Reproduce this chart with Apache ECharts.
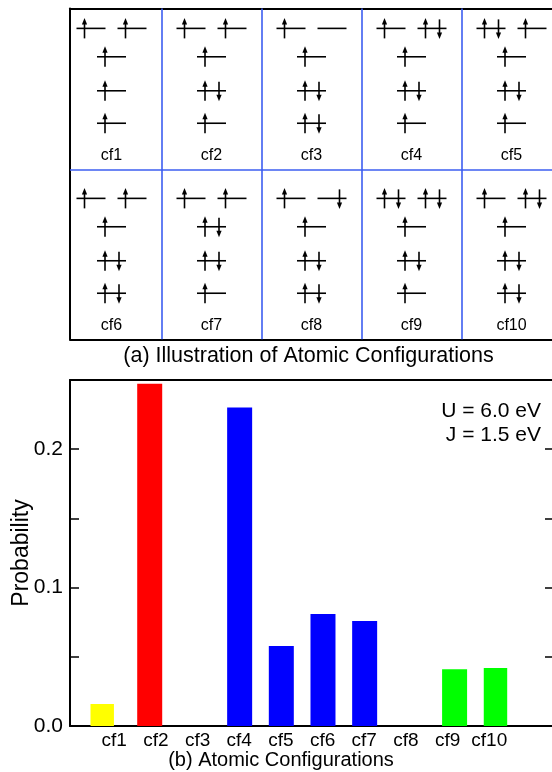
<!DOCTYPE html>
<html>
<head>
<meta charset="utf-8">
<script src="https://cdn.jsdelivr.net/npm/echarts@6/dist/echarts.min.js"></script>
<style>
html,body{margin:0;padding:0;background:#fff;}
#chart{width:552px;height:772px;}
</style>
</head>
<body>
<div id="chart"></div>
<script>
// ---- data ----
const configLabels = ['cf1','cf2','cf3','cf4','cf5','cf6','cf7','cf8','cf9','cf10'];
// orbital occupancy: 'u' = spin up, 'd' = spin down, 'ud' = pair, '' = empty
const egOccupancy = [
  ['u','u'], ['u','u'], ['u',''], ['u','ud'], ['ud','u'],
  ['u','u'], ['u','u'], ['u','d'], ['ud','ud'], ['u','ud']
];
const t2gOccupancy = [
  ['u','u','u'], ['u','ud','u'], ['u','ud','ud'], ['u','ud','u'], ['u','ud','u'],
  ['u','ud','ud'], ['ud','ud','u'], ['u','ud','ud'], ['u','ud','u'], ['u','ud','ud']
];
const probability = [0.0159, 0.2473, 0, 0.2302, 0.0578, 0.0810, 0.0759, 0, 0.0410, 0.0419];
const barGroup = ['yellow','red','blue','blue','blue','blue','blue','blue','green','green'];
const groupNames = ['yellow','red','blue','green'];
const groupColors = {yellow:'#ffff00', red:'#ff0000', blue:'#0000ff', green:'#00ff00'};
const yLabeledTicks = [0.0, 0.1, 0.2];
const captionA = '(a) Illustration of Atomic Configurations';
const captionB = '(b) Atomic Configurations';
const annotation = ['U = 6.0 eV', 'J = 1.5 eV'];

// ---- layout helpers (panel a: one x unit per column, one y unit per row of cells) ----
const FONT = "'Liberation Sans', Arial, Helvetica, sans-serif";
const codeIndex = {'':0, 'u':1, 'd':2, 'ud':3};
const rowOffsets = [0.167, 0.334, 0.534, 0.725];
const labelOffset = 0.915;
const egDx = [-0.205, 0.205];

const orbitalData = [];
const cellLabelData = [];
configLabels.forEach((lab, i) => {
  const col = i % 5, half = Math.floor(i / 5);
  egOccupancy[i].forEach((occ, k) => {
    orbitalData.push([col + egDx[k], half + rowOffsets[0], codeIndex[occ]]);
  });
  t2gOccupancy[i].forEach((occ, k) => {
    orbitalData.push([col, half + rowOffsets[k + 1], codeIndex[occ]]);
  });
  cellLabelData.push([col, half + labelOffset, i]);
});

function renderOrbital(params, api) {
  const p = api.coord([api.value(0), api.value(1)]);
  const code = api.value(2);
  const x = p[0], y = p[1];
  const L = x - 14.5, R = x + 14.5;
  const st = {stroke:'#000', lineWidth:1.6};
  const children = [{type:'line', shape:{x1:L, y1:y, x2:R, y2:y}, style:st}];
  if (code === 1 || code === 3) {
    const ax = L + 8;
    children.push({type:'line', shape:{x1:ax, y1:y + 10, x2:ax, y2:y - 5}, style:st});
    children.push({type:'polygon', shape:{points:[[ax, y - 10.5],[ax - 2.6, y - 4],[ax + 2.6, y - 4]]}, style:{fill:'#000'}});
  }
  if (code === 2 || code === 3) {
    const ax = L + 22;
    children.push({type:'line', shape:{x1:ax, y1:y - 9, x2:ax, y2:y + 5}, style:st});
    children.push({type:'polygon', shape:{points:[[ax, y + 10.5],[ax - 2.6, y + 4],[ax + 2.6, y + 4]]}, style:{fill:'#000'}});
  }
  return {type:'group', children};
}

function renderCellLabel(params, api) {
  const p = api.coord([api.value(0), api.value(1)]);
  return {type:'text', x:p[0], y:p[1], style:{text:configLabels[api.value(2)], fill:'#000', font:'16px ' + FONT, align:'center', verticalAlign:'middle'}};
}

const barSeries = groupNames.map(g => ({
  type:'bar', name:g, xAxisIndex:4, yAxisIndex:3,
  barWidth:25, barGap:'-73.6%',
  itemStyle:{color:groupColors[g]},
  data: probability.map((v, i) => barGroup[i] === g ? v : '-'),
  silent:true, animation:false
}));

const blue = '#3d5ef0';
const frameLine = {show:true, onZero:false, lineStyle:{color:'#000', width:2}};
const chart = echarts.init(document.getElementById('chart'), null, {renderer:'canvas'});
chart.setOption({
  animation:false,
  backgroundColor:'#fff',
  grid:[
    {left:70, top:8.5, width:500, height:330.8, containLabel:false, outerBoundsMode:'none'},
    {left:70, top:380, width:485, height:346, containLabel:false, outerBoundsMode:'none'},
    {left:90.5, top:380, width:416.7, height:346, containLabel:false, outerBoundsMode:'none'}
  ],
  xAxis:[
    {gridIndex:0, type:'value', min:-0.415, max:4.585, position:'top',
     axisLine:frameLine, axisTick:{show:false}, axisLabel:{show:false}, splitLine:{show:false}},
    {gridIndex:0, type:'value', min:-0.415, max:4.585, position:'bottom',
     axisLine:frameLine, axisTick:{show:false}, axisLabel:{show:false}, splitLine:{show:false}},
    {gridIndex:1, type:'value', min:0, max:1, position:'bottom',
     axisLine:frameLine, axisTick:{show:false}, axisLabel:{show:false}, splitLine:{show:false}},
    {gridIndex:1, type:'value', min:0, max:1, position:'top',
     axisLine:frameLine, axisTick:{show:false}, axisLabel:{show:false}, splitLine:{show:false}},
    {gridIndex:2, type:'category', data:configLabels, position:'bottom',
     axisLine:{show:false, onZero:false}, axisTick:{show:false}, splitLine:{show:false},
     axisLabel:{show:true, interval:0, color:'#000', fontSize:19, fontFamily:FONT, margin:5, padding:[0,0,0,5.8]}}
  ],
  yAxis:[
    {gridIndex:0, type:'value', inverse:true, min:0.05, max:1.996, position:'left',
     axisLine:frameLine, axisTick:{show:false}, axisLabel:{show:false}, splitLine:{show:false}},
    {gridIndex:1, type:'value', min:0, max:0.25, interval:0.05, position:'left',
     name:'Probability', nameLocation:'middle', nameGap:37, nameMoveOverlap:false,
     nameTextStyle:{fontSize:23, fontFamily:FONT, color:'#000'},
     axisLine:frameLine,
     axisTick:{show:true, inside:true, length:9, lineStyle:{color:'#000', width:1.5}},
     axisLabel:{show:true, color:'#000', fontSize:21, fontFamily:FONT, margin:7,
       formatter: v => yLabeledTicks.some(t => Math.abs(t - v) < 1e-9) ? v.toFixed(1) : ''},
     splitLine:{show:false}},
    {gridIndex:1, type:'value', min:0, max:0.25, interval:0.05, position:'right',
     axisLine:frameLine,
     axisTick:{show:true, inside:true, length:10, lineStyle:{color:'#000', width:1.5}},
     axisLabel:{show:false}, splitLine:{show:false}},
    {gridIndex:2, type:'value', min:0, max:0.25, show:false}
  ],
  series:[
    {type:'custom', xAxisIndex:0, yAxisIndex:0, data:orbitalData, renderItem:renderOrbital, silent:true, clip:false,
     markLine:{symbol:'none', silent:true, label:{show:false}, animation:false,
       lineStyle:{color:blue, width:1.6, type:'solid'},
       data:[{xAxis:0.5},{xAxis:1.5},{xAxis:2.5},{xAxis:3.5},{yAxis:1}]}},
    {type:'custom', xAxisIndex:0, yAxisIndex:0, data:cellLabelData, renderItem:renderCellLabel, silent:true, clip:false}
  ].concat(barSeries),
  graphic:[
    {type:'text', x:308.5, y:356, silent:true, style:{text:captionA, font:'21.5px ' + FONT, fill:'#000', align:'center', verticalAlign:'middle'}},
    {type:'text', x:281, y:760, silent:true, style:{text:captionB, font:'20px ' + FONT, fill:'#000', align:'center', verticalAlign:'middle'}},
    {type:'text', x:541, y:411.7, silent:true, style:{text:annotation[0], font:'21px ' + FONT, fill:'#000', align:'right', verticalAlign:'middle'}},
    {type:'text', x:541, y:435.7, silent:true, style:{text:annotation[1], font:'21px ' + FONT, fill:'#000', align:'right', verticalAlign:'middle'}}
  ]
});
</script>
</body>
</html>
